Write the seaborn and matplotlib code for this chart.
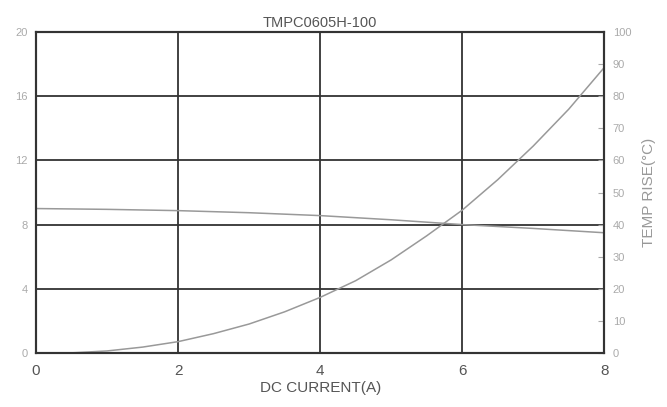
import matplotlib
matplotlib.use("Agg")
import matplotlib.pyplot as plt
import seaborn as sns
import pandas as pd

sns.set_style("white")
plt.rcParams['font.family'] = ['Liberation Sans', 'DejaVu Sans']

# Inductance (left axis, uH)
ind_current = [0, 1, 2, 3, 4, 5, 6, 7, 8]
inductance = [9.0, 8.95, 8.87, 8.74, 8.56, 8.3, 8.0, 7.76, 7.49]

# Temperature rise (right axis, degC)
temp_current = [0.5, 1, 1.5, 2, 2.5, 3, 3.5, 4, 4.5, 5, 5.5, 6, 6.5, 7, 7.5, 8]
temp_rise = [0.0, 0.6, 1.8, 3.5, 6.0, 9.0, 12.8, 17.3, 22.5, 29.0, 36.5, 44.5,
             54.0, 64.5, 76.0, 89.0]

x_ticks = [0, 2, 4, 6, 8]
left_ticks = [0, 4, 8, 12, 16, 20]
right_ticks = [0, 10, 20, 30, 40, 50, 60, 70, 80, 90, 100]

fig = plt.figure(figsize=(6.67, 4.07), dpi=100)
ax = fig.add_axes([0.054, 0.133, 0.852, 0.788])

grid_c = "#333333"
curve_c = "#999999"

df1 = pd.DataFrame({"I": ind_current, "L": inductance})
sns.lineplot(data=df1, x="I", y="L", ax=ax, color=curve_c, linewidth=1.1)
ax.set_xlim(0, 8)
ax.set_ylim(0, 20)
ax.set_xticks(x_ticks)
ax.set_yticks(left_ticks)
for v in left_ticks[1:-1]:
    ax.axhline(v, color=grid_c, linewidth=1.3, zorder=1)
for v in x_ticks[1:-1]:
    ax.axvline(v, color=grid_c, linewidth=1.3, zorder=1)
for s in ax.spines.values():
    s.set_color(grid_c)
    s.set_linewidth(1.5)
ax.tick_params(axis="y", labelsize=8, colors="#aaaaaa", length=0, pad=6)
ax.tick_params(axis="x", labelsize=11, colors="#555555", length=0, pad=8)
ax.set_xlabel("DC CURRENT(A)", fontsize=11, color="#555555", labelpad=2)
ax.set_ylabel("")
ax.set_title("TMPC0605H-100", fontsize=10.5, color="#555555", pad=4)

ax2 = ax.twinx()
df2 = pd.DataFrame({"I": temp_current, "T": temp_rise})
sns.lineplot(data=df2, x="I", y="T", ax=ax2, color=curve_c, linewidth=1.1)
ax2.set_ylim(0, 100)
ax2.set_xlim(0, 8)
ax2.set_yticks(right_ticks)
ax2.tick_params(axis="y", labelsize=8, colors="#aaaaaa", direction="in", length=4, pad=6)
for lab in ax2.get_yticklabels():
    lab.set_color("#aaaaaa")
ax2.set_ylabel("TEMP RISE(\u00b0C)", fontsize=11, color="#999999", labelpad=8)
for s in ax2.spines.values():
    s.set_color(grid_c)
    s.set_linewidth(1.5)

fig.savefig("out.png", dpi=100, facecolor="white")
